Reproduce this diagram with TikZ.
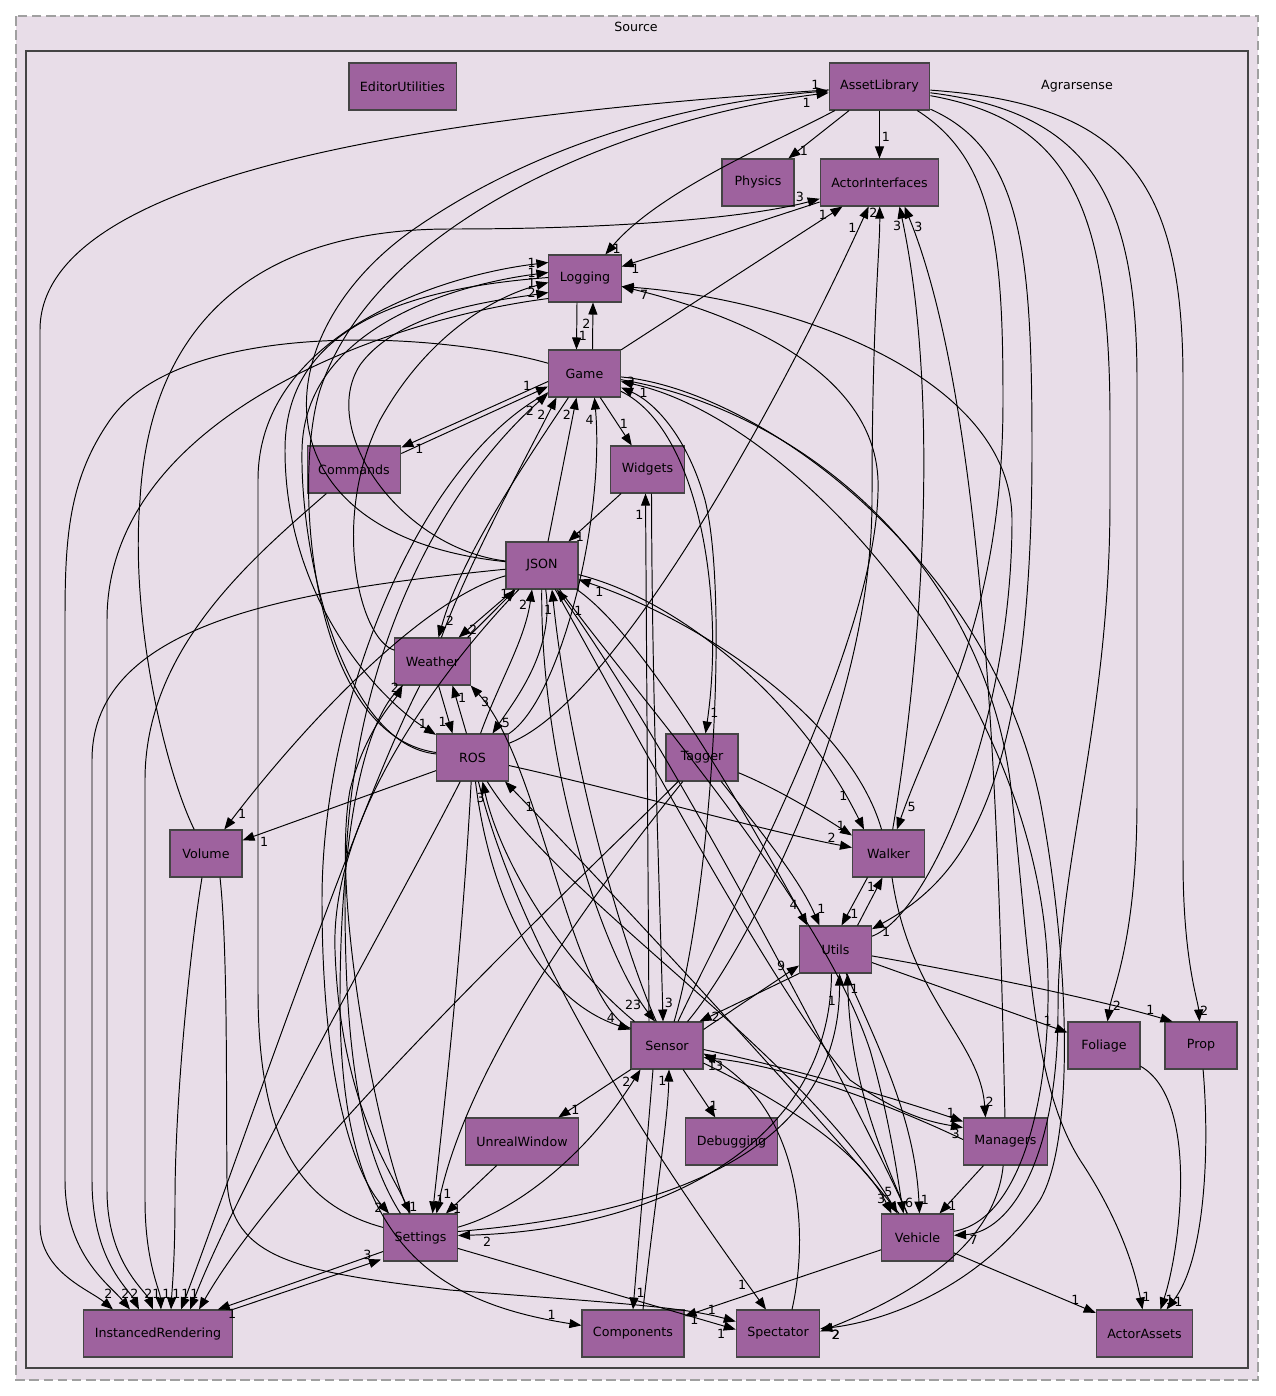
\documentclass[tikz,border=0pt]{standalone}
\usepackage{fontspec}
\usepackage{tikz}
\usetikzlibrary{arrows.meta, calc}
\newfontfamily\dirfamily{DejaVu Sans}
\newcommand\dirfont{\dirfamily\fontsize{7.2}{8.6}\selectfont}
\definecolor{clusterbg}{HTML}{E8DDE8}
\definecolor{dirfill}{HTML}{9E629E}
\definecolor{dirline}{HTML}{444444}
\definecolor{outerline}{HTML}{A0A0A0}

\begin{document}
\begin{tikzpicture}[
    x=0.02cm, y=-0.02cm,
    % Style for directory boxes
    dirbox/.style={
        draw=dirline, line width=0.6pt, fill=dirfill,
        minimum width=1.44cm, minimum height=0.94cm,
        inner xsep=0.22cm, font=\dirfont
    },
    % Style for dependency edges and their counts
    dep/.style={-{Triangle[length=0.24cm, width=0.18cm]}, line width=0.55pt},
    lbl/.style={font=\dirfont, inner sep=1pt},
    % count sitting just above an arrow tip on InstancedRendering
    irlbl/.style={lbl, pos=1, anchor=south east, yshift=5pt, xshift=1pt},
    % count left of an arrow tip on Logging
    lglbl/.style={lbl, pos=1, anchor=east, xshift=-6pt}
  ]
    \useasboundingbox (0,0) rectangle (1275,1396);

    % 1. Clusters
    \draw[outerline, line width=0.6pt, dash pattern=on 5.6pt off 2.4pt, fill=clusterbg] (16,16) rectangle (1258,1380);
    \node[font=\dirfont] (srclabel) at (636,27) {Source};
    \draw[dirline, line width=1.2pt, fill=clusterbg] (26,51) rectangle (1248,1368);
    \node[font=\dirfont] (agrlabel) at (1077,86) {Agrarsense};

    % 2. Directories
    \node[dirbox] (editorutil)  at (402.5,86.5)  {EditorUtilities};
    \node[dirbox] (assetlib)    at (879.5,86.5)  {AssetLibrary};
    \node[dirbox] (physics)     at (758,182.5)   {Physics};
    \node[dirbox] (actorif)     at (879.5,182.5) {ActorInterfaces};
    \node[dirbox] (logging)     at (585,278.5)   {Logging};
    \node[dirbox] (game)        at (584.5,373.5) {Game};
    \node[dirbox] (commands)    at (354,469.5)   {Commands};
    \node[dirbox] (widgets)     at (647.5,469.5) {Widgets};
    \node[dirbox] (json)        at (542,565.5)   {JSON};
    \node[dirbox] (weather)     at (432.5,661.5) {Weather};
    \node[dirbox] (ros)         at (472.5,757.5) {ROS};
    \node[dirbox] (tagger)      at (702,757.5)   {Tagger};
    \node[dirbox] (volume)      at (206,853.5)   {Volume};
    \node[dirbox] (walker)      at (888.5,853.5) {Walker};
    \node[dirbox] (utils)       at (835.5,949.5) {Utils};
    \node[dirbox] (sensor)      at (667,1045.5)  {Sensor};
    \node[dirbox] (foliage)     at (1104,1045.5) {Foliage};
    \node[dirbox] (prop)        at (1201,1045.5) {Prop};
    \node[dirbox] (unrealwin)   at (522,1141.5)  {UnrealWindow};
    \node[dirbox] (debugging)   at (731.5,1141.5) {Debugging};
    \node[dirbox] (managers)    at (1005.5,1141.5) {Managers};
    \node[dirbox] (settings)    at (420.5,1237.5) {Settings};
    \node[dirbox] (vehicle)     at (917.5,1237.5) {Vehicle};
    \node[dirbox] (instrender)  at (158,1333.5)  {InstancedRendering};
    \node[dirbox] (components)  at (633,1333.5)  {Components};
    \node[dirbox] (spectator)   at (778,1333.5)  {Spectator};
    \node[dirbox] (actorassets) at (1144.5,1333.5) {ActorAssets};

    % 3. AssetLibrary
    \draw[dep] (assetlib) -- (physics) node[lbl, pos=0.85, anchor=west] {1};
    \draw[dep] (assetlib) -- (actorif) node[lbl, pos=0.55, anchor=west] {1};
    \draw[dep] (assetlib) .. controls (780,140) and (660,190) .. (logging) node[lbl, pos=0.97, anchor=west] {1};
    \draw[dep] (assetlib) .. controls (450,115) and (40,170) .. (40,330) -- (40,1225) .. controls (40,1272) and (90,1290) .. ($(instrender.north)+(-45,0)$) node[irlbl] {2};
    \draw[dep] (assetlib) .. controls (995,160) and (1003,250) .. (1003,400) .. controls (1003,620) and (935,720) .. (walker) node[lbl, pos=0.93, anchor=west] {5};
    \draw[dep] (assetlib) .. controls (1022,150) and (1032,250) .. (1032,450) .. controls (1032,800) and (960,880) .. (utils) node[lbl, pos=0.97, anchor=north west] {1};
    \draw[dep] (assetlib) .. controls (1065,120) and (1110,200) .. (1110,420) -- (1110,500) .. controls (1110,720) and (1058,860) .. (1058,1010) .. controls (1058,1160) and (1010,1232) .. (vehicle) node[lbl, pos=0.92, anchor=north west] {7};
    \draw[dep] (assetlib) .. controls (1085,112) and (1137,190) .. (1137,380) -- (1137,800) .. controls (1137,940) and (1112,990) .. (foliage) node[lbl, pos=0.85, anchor=west] {2};
    \draw[dep] (assetlib) .. controls (1125,104) and (1183,180) .. (1183,380) -- (1183,860) .. controls (1183,960) and (1198,1000) .. (prop) node[lbl, pos=0.85, anchor=west] {2};
    \draw[dep] (json) .. controls (250,535) and (262,330) .. (420,225) .. controls (560,130) and (720,100) .. (assetlib) node[lbl, pos=0.96, anchor=south] {1};
    \draw[dep] (ros) .. controls (310,735) and (292,480) .. (320,390) .. controls (380,210) and (650,115) .. (assetlib) node[lbl, pos=0.96, anchor=north] {1};

    % 4. ActorInterfaces
    \draw[dep] (actorif) -- (logging) node[lbl, pos=0.93, anchor=north] {1};
    \draw[dep] (volume) .. controls (165,770) and (130,620) .. (140,500) .. controls (150,320) and (260,229) .. (450,229) .. controls (640,229) and (760,215) .. (actorif) node[lbl, pos=0.9, anchor=south] {3};
    \draw[dep] (game) -- (actorif) node[lbl, pos=0.94, anchor=east] {1};
    \draw[dep] (ros) .. controls (620,700) and (790,380) .. (actorif) node[lbl, pos=0.96, anchor=east] {1};
    \draw[dep] (sensor) .. controls (740,960) and (872,720) .. (872,500) .. controls (872,320) and (880,250) .. (actorif) node[lbl, pos=0.95, anchor=east] {2};
    \draw[dep] (walker) .. controls (915,700) and (945,420) .. ($(actorif.south)+(20,0)$) node[lbl, pos=0.97, anchor=east] {3};
    \draw[dep] (managers) .. controls (1000,900) and (992,420) .. ($(actorif.south)+(25,0)$) node[lbl, pos=0.97, anchor=west] {3};

    % 5. Logging
    \draw[dep] ($(logging.south)+(-8,0)$) -- ($(game.north)+(-8,0)$) node[lbl, pos=0.7, anchor=west] {1};
    \draw[dep] ($(game.north)+(8,0)$) -- ($(logging.south)+(8,0)$) node[lbl, pos=0.55, anchor=east] {2};
    \draw[dep] (utils) .. controls (930,915) and (1012,720) .. (1012,520) .. controls (1012,380) and (800,300) .. ($(logging.east)+(0,8)$) node[lbl, pos=0.97, anchor=north west] {7};
    \draw[dep] (sensor) .. controls (720,930) and (882,640) .. (878,480) .. controls (874,380) and (760,320) .. ($(logging.east)+(0,8)$);
    \draw[dep] (settings) .. controls (300,1205) and (258,1140) .. (258,990) -- (258,480) .. controls (258,335) and (440,275) .. ($(logging.west)+(0,-16)$) node[lglbl] {1};
    \draw[dep] (ros) .. controls (345,745) and (300,560) .. (302,450) .. controls (304,330) and (450,285) .. ($(logging.west)+(0,-6)$) node[lglbl] {1};
    \draw[dep] (weather) .. controls (360,640) and (330,520) .. (380,420) .. controls (430,330) and (500,295) .. ($(logging.west)+(0,4)$) node[lglbl] {1};
    \draw[dep] (json) .. controls (400,548) and (318,430) .. (360,365) .. controls (400,310) and (500,300) .. ($(logging.west)+(0,14)$) node[lglbl] {2};
    \draw[dep] ($(logging.west)+(0,-1)$) .. controls (380,290) and (285,340) .. (285,450) .. controls (285,600) and (380,700) .. (ros) node[lbl, pos=0.96, anchor=south east] {1};
    \draw[dep] ($(logging.west)+(0,20)$) .. controls (380,320) and (107,420) .. (107,620) -- (107,1190) .. controls (107,1262) and (145,1290) .. ($(instrender.north)+(-5,0)$) node[irlbl] {2};

    % 6. Game
    \draw[dep] ($(game.west)+(0,8)$) -- ($(commands.north east)+(0,2)$) node[lbl, pos=0.92, anchor=north west] {1};
    \draw[dep] ($(commands.north east)+(0,8)$) -- ($(game.west)+(0,13)$) node[lbl, pos=0.9, anchor=south east] {1};
    \draw[dep] (game) -- (widgets) node[lbl, pos=0.55, anchor=west] {1};
    \draw[dep] (game) .. controls (700,430) and (725,600) .. (tagger) node[lbl, pos=0.95, anchor=west] {1};
    \draw[dep] (game) .. controls (520,470) and (460,560) .. ($(weather.north)+(6,0)$) node[lbl, pos=0.93, anchor=west] {2};
    \draw[dep] (weather) .. controls (470,560) and (530,450) .. ($(game.south)+(-28,0)$) node[lbl, pos=0.9, anchor=east] {2};
    \draw[dep] ($(json.north)+(6,0)$) -- ($(game.south)+(-8,0)$) node[lbl, pos=0.88, anchor=east] {2};
    \draw[dep] (ros) .. controls (560,700) and (605,520) .. ($(game.south)+(10,0)$) node[lbl, pos=0.94, anchor=east] {4};
    \draw[dep] (sensor) .. controls (710,900) and (730,600) .. (705,500) .. controls (685,430) and (650,400) .. ($(game.east)+(0,14)$) node[lbl, pos=0.96, anchor=south west] {3};
    \draw[dep] (vehicle) .. controls (1020,1220) and (1050,1100) .. (1048,980) .. controls (1045,700) and (800,420) .. ($(game.east)+(0,8)$) node[lbl, pos=0.97, anchor=north west] {1};
    \draw[dep] ($(settings.north)+(-20,0)$) .. controls (360,1150) and (345,1050) .. (345,900) .. controls (345,650) and (450,480) .. ($(game.west)+(0,20)$) node[lbl, pos=0.96, anchor=north east] {2};
    \draw[dep] (game) .. controls (420,460) and (322,700) .. (322,900) .. controls (322,1100) and (360,1180) .. ($(settings.north west)+(6,0)$) node[lbl, pos=0.95, anchor=east] {2};
    \draw[dep] (game) .. controls (430,330) and (180,320) .. (110,420) .. controls (68,480) and (65,540) .. (65,620) -- (65,1180) .. controls (65,1255) and (110,1285) .. ($(instrender.north)+(-28,0)$) node[irlbl] {2};
    \draw[dep] (game) .. controls (760,390) and (990,560) .. (1040,800) .. controls (1070,960) and (1075,1140) .. (1040,1200) .. controls (980,1290) and (880,1322) .. (spectator) node[lbl, pos=0.95, anchor=north west] {2};
    \draw[dep] (game) .. controls (800,410) and (980,560) .. (1010,780) .. controls (1030,950) and (1030,1080) .. (1080,1160) .. controls (1120,1220) and (1135,1270) .. ($(actorassets.north)+(-2,0)$) node[lbl, pos=0.9, anchor=west] {1};

    % 7. Widgets and JSON
    \draw[dep] (widgets) -- (json) node[lbl, pos=0.9, anchor=west] {1};
    \draw[dep] ($(sensor.north)+(-18,0)$) -- ($(widgets.south)+(-2,0)$) node[lbl, pos=0.96, anchor=east] {1};
    \draw[dep] ($(widgets.south)+(4,0)$) .. controls (652,700) and (660,900) .. ($(sensor.north)+(-4,0)$) node[lbl, pos=0.95, anchor=west] {3};
    \draw[dep] (json) -- ($(weather.north east)+(-12,0)$) node[lbl, pos=0.85, anchor=west] {2};
    \draw[dep] ($(weather.north east)+(-3,0)$) -- ($(json.south west)+(10,0)$) node[lbl, pos=0.9, anchor=east] {1};
    \draw[dep] (json) .. controls (420,600) and (300,730) .. (volume) node[lbl, pos=0.95, anchor=west] {1};
    \draw[dep] (json) .. controls (300,590) and (92,620) .. (92,760) -- (92,1180) .. controls (92,1260) and (128,1288) .. ($(instrender.north)+(-19,0)$) node[irlbl] {2};
    \draw[dep] (json) .. controls (650,640) and (760,840) .. ($(utils.north)+(-28,0)$) node[lbl, pos=0.95, anchor=south east] {4};
    \draw[dep] (json) .. controls (540,760) and (600,950) .. ($(sensor.north)+(-12,0)$) node[lbl, pos=0.93, anchor=east] {23};
    \draw[dep] (json) .. controls (555,650) and (515,700) .. ($(ros.north)+(20,0)$) node[lbl, pos=0.9, anchor=west] {5};
    \draw[dep] (json) .. controls (470,640) and (330,800) .. (335,950) .. controls (340,1100) and (390,1170) .. ($(settings.north)+(-10,0)$) node[lbl, pos=0.95, anchor=west] {1};
    \draw[dep] (json) .. controls (650,760) and (780,1000) .. (850,1080) .. controls (900,1115) and (930,1122) .. ($(managers.west)+(0,-14)$) node[lbl, pos=0.99, anchor=north east] {3};
    \draw[dep] (json) .. controls (640,700) and (820,900) .. (870,1050) .. controls (890,1120) and (898,1180) .. ($(vehicle.north)+(-14,0)$) node[lbl, pos=0.97, anchor=south west] {6};
    \draw[dep] (json) .. controls (680,600) and (800,700) .. ($(walker.north west)+(12,0)$) node[lbl, pos=0.93, anchor=south east] {1};
    \draw[dep] (walker) .. controls (850,720) and (700,620) .. ($(json.east)+(0,14)$) node[lbl, pos=0.96, anchor=north west] {1};
    \draw[dep] ($(ros.north)+(8,0)$) .. controls (500,680) and (525,640) .. ($(json.south)+(-10,0)$) node[lbl, pos=0.9, anchor=east] {2};
    \draw[dep] (sensor) .. controls (620,940) and (570,760) .. ($(json.south)+(10,0)$) node[lbl, pos=0.96, anchor=east] {1};
    \draw[dep] (vehicle) .. controls (880,1150) and (680,760) .. ($(json.south)+(15,0)$) node[lbl, pos=0.96, anchor=west] {1};

    % 8. Weather and ROS
    \draw[dep] ($(weather.south)+(6,0)$) -- ($(ros.north)+(-20,0)$) node[lbl, pos=0.75, anchor=east] {1};
    \draw[dep] ($(ros.north)+(-6,0)$) -- ($(weather.south)+(20,0)$) node[lbl, pos=0.75, anchor=west] {1};
    \draw[dep] (sensor) .. controls (570,1000) and (540,760) .. (weather.south east) node[lbl, pos=0.96, anchor=north west] {3};
    \draw[dep] (settings) .. controls (380,1150) and (330,900) .. (350,790) .. controls (365,730) and (395,700) .. ($(weather.south west)+(8,0)$) node[lbl, pos=0.95, anchor=east] {2};
    \draw[dep] (weather) .. controls (360,800) and (230,1180) .. ($(instrender.north)+(23,0)$) node[irlbl] {1};
    \draw[dep] (weather) .. controls (360,720) and (340,850) .. (340,1000) .. controls (340,1230) and (420,1300) .. (components) node[lbl, pos=0.95, anchor=south east] {1};
    \draw[dep] (ros) -- (volume) node[lbl, pos=0.92, anchor=north west] {1};
    \draw[dep] (ros) .. controls (620,790) and (760,830) .. ($(walker.west)+(0,-6)$) node[lbl, pos=0.95, anchor=south east] {2};
    \draw[dep] (ros) .. controls (490,900) and (540,1000) .. ($(sensor.west)+(0,-16)$) node[lbl, pos=0.95, anchor=south east] {4};
    \draw[dep] ($(sensor.north west)+(4,0)$) .. controls (560,960) and (500,860) .. ($(ros.south)+(10,0)$) node[lbl, pos=0.93, anchor=east] {3};
    \draw[dep] (vehicle) .. controls (850,1150) and (620,900) .. ($(ros.south east)+(-4,0)$) node[lbl, pos=0.95, anchor=north west] {1};
    \draw[dep] (ros) .. controls (462,950) and (445,1100) .. ($(settings.north)+(12,0)$) node[lbl, pos=0.96, anchor=west] {1};
    \draw[dep] (ros) .. controls (400,900) and (240,1180) .. ($(instrender.north)+(32,0)$) node[irlbl] {1};
    \draw[dep] (ros) .. controls (560,900) and (800,1050) .. ($(vehicle.north)+(-20,0)$) node[lbl, pos=0.97, anchor=south] {5};
    \draw[dep] (ros) .. controls (520,950) and (650,1150) .. ($(spectator.north)+(-12,0)$) node[lbl, pos=0.95, anchor=east] {1};

    % 9. Tagger, Volume, Commands
    \draw[dep] (tagger) .. controls (780,790) and (820,815) .. ($(walker.west)+(0,-18)$) node[lbl, pos=0.95, anchor=south east] {1};
    \draw[dep] (tagger) .. controls (760,830) and (800,880) .. ($(utils.north)+(-16,0)$) node[lbl, pos=0.93, anchor=south west] {1};
    \draw[dep] (tagger) .. controls (620,860) and (470,1050) .. ($(settings.north)+(16,0)$) node[lbl, pos=0.96, anchor=west] {1};
    \draw[dep] (tagger) .. controls (600,860) and (290,1150) .. ($(instrender.north)+(41,0)$) node[irlbl] {1};
    \draw[dep] (volume) .. controls (190,950) and (175,1100) .. (175,1200) .. controls (175,1260) and (172,1290) .. ($(instrender.north)+(13,0)$) node[irlbl] {1};
    \draw[dep] ($(volume.south)+(14,0)$) .. controls (228,950) and (226,1100) .. (227,1180) .. controls (230,1260) and (300,1272) .. (450,1290) .. controls (600,1302) and (680,1306) .. ($(spectator.west)+(0,-12)$) node[lbl, pos=0.9, anchor=south east] {1};
    \draw[dep] (commands) .. controls (250,560) and (145,650) .. (145,780) -- (145,1200) .. controls (145,1262) and (160,1290) .. ($(instrender.north)+(3,0)$) node[irlbl] {1};

    % 10. Walker and Utils
    \draw[dep] ($(walker.south)+(-21,0)$) -- ($(utils.north)+(6,0)$) node[lbl, pos=0.75, anchor=west] {1};
    \draw[dep] ($(utils.north)+(22,0)$) -- ($(walker.south)+(-6,0)$) node[lbl, pos=0.8, anchor=east] {1};
    \draw[dep] (walker) .. controls (910,1000) and (980,1040) .. ($(managers.north)+(-20,0)$) node[lbl, pos=0.93, anchor=west] {2};
    \draw[dep] (utils) -- (foliage) node[lbl, pos=0.93, anchor=south east] {1};
    \draw[dep] (utils) .. controls (980,975) and (1100,1000) .. ($(prop.north west)+(8,0)$) node[lbl, pos=0.93, anchor=south east] {1};
    \draw[dep] ($(utils.south)+(-4,0)$) .. controls (830,1150) and (650,1230) .. ($(settings.east)+(0,-2)$) node[lbl, pos=0.96, anchor=north west] {2};
    \draw[dep] ($(settings.east)+(0,-6)$) .. controls (650,1215) and (840,1160) .. ($(utils.south)+(4,0)$) node[lbl, pos=0.95, anchor=east] {1};
    \draw[dep] (vehicle) .. controls (880,1150) and (850,1080) .. ($(utils.south)+(12,0)$) node[lbl, pos=0.95, anchor=west] {1};
    \draw[dep] (utils) .. controls (880,1050) and (915,1120) .. ($(vehicle.north)+(2,0)$) node[lbl, pos=0.95, anchor=west] {1};
    \draw[dep] ($(sensor.north east)+(0,8)$) -- ($(utils.south west)+(0,-8)$) node[lbl, pos=0.88, anchor=south east] {9};
    \draw[dep] (utils.south west) -- ($(sensor.north east)+(-4,0)$) node[lbl, pos=0.9, anchor=west] {2};

    % 11. Sensor
    \draw[dep] (sensor) -- (unrealwin) node[lbl, pos=0.85, anchor=west] {1};
    \draw[dep] (sensor) -- (debugging) node[lbl, pos=0.75, anchor=west] {1};
    \draw[dep] ($(sensor.east)+(0,4)$) .. controls (800,1070) and (900,1100) .. ($(managers.north west)+(0,4)$) node[lbl, pos=0.97, anchor=south east] {1};
    \draw[dep] ($(managers.west)+(0,-2)$) .. controls (880,1100) and (780,1065) .. ($(sensor.east)+(0,12)$) node[lbl, pos=0.96, anchor=north west] {3};
    \draw[dep] (sensor) .. controls (780,1100) and (860,1150) .. ($(vehicle.north)+(-26,0)$) node[lbl, pos=0.96, anchor=south east] {3};
    \draw[dep] ($(sensor.south)+(-14,0)$) -- (components.north) node[lbl, pos=0.93, anchor=west] {1};
    \draw[dep] ($(components.north)+(10,0)$) .. controls (655,1200) and (668,1120) .. ($(sensor.south)+(2,0)$) node[lbl, pos=0.93, anchor=east] {1};
    \draw[dep] (settings) .. controls (520,1210) and (590,1150) .. ($(sensor.south west)+(10,0)$) node[lbl, pos=0.95, anchor=east] {2};
    \draw[dep] ($(spectator.north)+(14,0)$) .. controls (810,1230) and (800,1110) .. ($(sensor.east)+(0,8)$) node[lbl, pos=0.97, anchor=north] {1};

    % 12. Settings, Managers, Vehicle
    \draw[dep] (unrealwin) -- (settings) node[lbl, pos=0.9, anchor=west] {1};
    \draw[dep] ($(settings.south west)+(0,-10)$) -- ($(instrender.north east)+(-15,0)$) node[lbl, pos=0.95, anchor=north west] {1};
    \draw[dep] (instrender.north east) -- ($(settings.south west)+(-2,-2)$) node[lbl, pos=0.95, anchor=south east] {3};
    \draw[dep] (settings) -- ($(spectator.west)+(0,-4)$) node[lbl, pos=0.97, anchor=north east] {1};
    \draw[dep] (managers) -- (vehicle) node[lbl, pos=0.85, anchor=west] {1};
    \draw[dep] (managers) .. controls (995,1250) and (900,1300) .. ($(spectator.east)+(0,-2)$) node[lbl, pos=0.96, anchor=north west] {2};
    \draw[dep] (vehicle) -- (components) node[lbl, pos=0.95, anchor=north] {1};
    \draw[dep] (vehicle) -- (actorassets) node[lbl, pos=0.9, anchor=south east] {1};
    \draw[dep] (foliage) .. controls (1200,1100) and (1180,1250) .. ($(actorassets.north)+(16,0)$) node[lbl, pos=0.95, anchor=west] {1};
    \draw[dep] (prop) .. controls (1210,1150) and (1205,1260) .. ($(actorassets.north)+(22,0)$) node[lbl, pos=0.95, anchor=west] {1};
\end{tikzpicture}
\end{document}
